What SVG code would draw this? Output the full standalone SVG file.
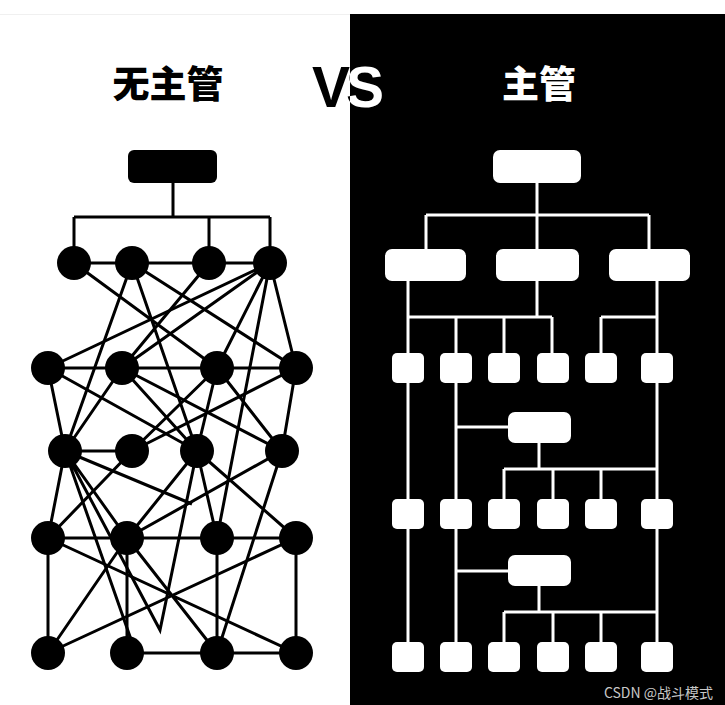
<svg xmlns="http://www.w3.org/2000/svg" width="725" height="705" viewBox="0 0 725 705">
<style>
.bl{stroke:#000;stroke-width:3;fill:none}
.wl{stroke:#fff;stroke-width:3;fill:none}
.dot{fill:#000}
.wb{fill:#fff}
.ttl{font-family:"Noto Sans CJK SC","Noto Sans",sans-serif;font-weight:900;font-size:37px;text-anchor:middle}
.vs{font-family:"Liberation Sans",Arial,sans-serif;font-weight:bold;font-size:57px;letter-spacing:-4px}
</style>
<defs>
<clipPath id="cl"><rect x="0" y="0" width="350" height="705"/></clipPath>
<clipPath id="cr"><rect x="350" y="0" width="375" height="705"/></clipPath>
</defs>
<rect x="0" y="0" width="725" height="705" fill="#fff"/>
<line x1="0" y1="14.5" x2="350" y2="14.5" stroke="#f0f0f0" stroke-width="1"/>
<rect id="dark-panel" x="350" y="14" width="375" height="691" fill="#000"/>

<g id="titles">
<text class="ttl" x="168" y="98" fill="#000">无主管</text>
<text class="ttl" x="539" y="98" fill="#fff">主管</text>
<text class="vs" x="312" y="107" fill="#000" clip-path="url(#cl)">VS</text>
<text class="vs" x="312" y="107" fill="#fff" clip-path="url(#cr)">VS</text>
</g>

<g id="left-connectors" class="bl" stroke-linejoin="miter">
<path d="M173 183V217M74 217H270M74 217V263M209 217V263M270 217V263"/>
<path d="M74 263H270M48 368H296M65 451H132M48 538H296M127 653H296"/>
<path d="M48 538V653M127 538V653M217 538V653M296 538V653"/>
<path d="M74 263L217 368M132 263L65 451M132 263L197 451M132 263L296 368M209 263L122 368"/>
<path d="M270 263L48 368M270 263L122 368M270 263L217 368M270 263L217 538M270 263L296 368"/>
<path d="M48 368L65 451M48 368L197 451M122 368L65 451M122 368L197 451M122 368L282 451"/>
<path d="M217 368L132 451M217 368L197 451M217 368L282 451M296 368L282 451M132 451L296 368"/>
<path d="M65 451L48 538M65 451L127 538M65 451L134 648M65 451L160 630L197 451M65 451L192 504"/>
<path d="M132 451L48 538M197 451L127 538M197 451L217 538M197 451L296 538M282 451L127 538M282 451L217 653"/>
<path d="M48 538L296 653M127 538L217 653M48 653L127 538M48 653L296 538"/>
</g>

<g id="left-nodes">
<g id="l-top"><rect x="128" y="150" width="89" height="33" rx="6" class="dot"/></g>
<g id="l-a1"><circle cx="74" cy="263" r="17" class="dot"/></g>
<g id="l-a2"><circle cx="132" cy="263" r="17" class="dot"/></g>
<g id="l-a3"><circle cx="209" cy="263" r="17" class="dot"/></g>
<g id="l-a4"><circle cx="270" cy="263" r="17" class="dot"/></g>
<g id="l-b1"><circle cx="48" cy="368" r="17" class="dot"/></g>
<g id="l-b2"><circle cx="122" cy="368" r="17" class="dot"/></g>
<g id="l-b3"><circle cx="217" cy="368" r="17" class="dot"/></g>
<g id="l-b4"><circle cx="296" cy="368" r="17" class="dot"/></g>
<g id="l-c1"><circle cx="65" cy="451" r="17" class="dot"/></g>
<g id="l-c2"><circle cx="132" cy="451" r="17" class="dot"/></g>
<g id="l-c3"><circle cx="197" cy="451" r="17" class="dot"/></g>
<g id="l-c4"><circle cx="282" cy="451" r="17" class="dot"/></g>
<g id="l-d1"><circle cx="48" cy="538" r="17" class="dot"/></g>
<g id="l-d2"><circle cx="127" cy="538" r="17" class="dot"/></g>
<g id="l-d3"><circle cx="217" cy="538" r="17" class="dot"/></g>
<g id="l-d4"><circle cx="296" cy="538" r="17" class="dot"/></g>
<g id="l-e1"><circle cx="48" cy="653" r="17" class="dot"/></g>
<g id="l-e2"><circle cx="127" cy="653" r="17" class="dot"/></g>
<g id="l-e3"><circle cx="217" cy="653" r="17" class="dot"/></g>
<g id="l-e4"><circle cx="296" cy="653" r="17" class="dot"/></g>
</g>

<g id="right-connectors" class="wl">
<path d="M537 183V215M426 215H649M426 215V249M537 215V249M649 215V249"/>
<path d="M408 281V642M537 281V317M408 317H552M456 317V353M504 317V353M552 317V353"/>
<path d="M657 281V642M601 317H657M601 317V353"/>
<path d="M456 383V642M456 427H508M456 571H508"/>
<path d="M539 443V469M504 469H657M504 469V499M553 469V499M601 469V499"/>
<path d="M539 586V612M504 612H657M504 612V642M553 612V642M601 612V642"/>
</g>

<g id="right-nodes">
<g id="r-root"><rect x="493" y="150" width="88" height="33" rx="7" class="wb"/></g>
<g id="r-m1"><rect x="385" y="249" width="81" height="32" rx="7" class="wb"/></g>
<g id="r-m2"><rect x="496" y="249" width="83" height="32" rx="7" class="wb"/></g>
<g id="r-m3"><rect x="609" y="249" width="81" height="32" rx="7" class="wb"/></g>
<g id="r-s1"><rect x="508" y="412" width="63" height="31" rx="7" class="wb"/></g>
<g id="r-s2"><rect x="508" y="555" width="63" height="31" rx="7" class="wb"/></g>
<g id="r-l1a"><rect x="392" y="353" width="32" height="30" rx="5" class="wb"/></g>
<g id="r-l1b"><rect x="440" y="353" width="32" height="30" rx="5" class="wb"/></g>
<g id="r-l1c"><rect x="488" y="353" width="32" height="30" rx="5" class="wb"/></g>
<g id="r-l1d"><rect x="537" y="353" width="32" height="30" rx="5" class="wb"/></g>
<g id="r-l1e"><rect x="585" y="353" width="32" height="30" rx="5" class="wb"/></g>
<g id="r-l1f"><rect x="641" y="353" width="32" height="30" rx="5" class="wb"/></g>
<g id="r-l2a"><rect x="392" y="499" width="32" height="30" rx="5" class="wb"/></g>
<g id="r-l2b"><rect x="440" y="499" width="32" height="30" rx="5" class="wb"/></g>
<g id="r-l2c"><rect x="488" y="499" width="32" height="30" rx="5" class="wb"/></g>
<g id="r-l2d"><rect x="537" y="499" width="32" height="30" rx="5" class="wb"/></g>
<g id="r-l2e"><rect x="585" y="499" width="32" height="30" rx="5" class="wb"/></g>
<g id="r-l2f"><rect x="641" y="499" width="32" height="30" rx="5" class="wb"/></g>
<g id="r-l3a"><rect x="392" y="642" width="32" height="30" rx="5" class="wb"/></g>
<g id="r-l3b"><rect x="440" y="642" width="32" height="30" rx="5" class="wb"/></g>
<g id="r-l3c"><rect x="488" y="642" width="32" height="30" rx="5" class="wb"/></g>
<g id="r-l3d"><rect x="537" y="642" width="32" height="30" rx="5" class="wb"/></g>
<g id="r-l3e"><rect x="585" y="642" width="32" height="30" rx="5" class="wb"/></g>
<g id="r-l3f"><rect x="641" y="642" width="32" height="30" rx="5" class="wb"/></g>
</g>

<text id="watermark" x="713" y="698" text-anchor="end" fill="#c8c8c8" font-family="Noto Sans CJK SC, Noto Sans, sans-serif" font-size="14">CSDN @战斗模式</text>
</svg>
